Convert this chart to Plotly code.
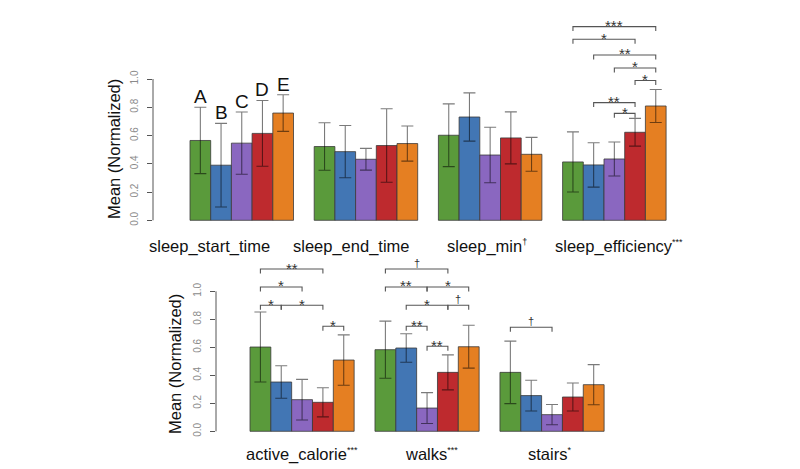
import plotly.graph_objects as go

W, H = 800, 469
FONT = "Liberation Sans, Arial, sans-serif"

colors = ["#5a9a3b", "#4276b4", "#8a67c0", "#be2a2e", "#e57f22"]
letters = ["A", "B", "C", "D", "E"]

# ---- data ----
top_groups = ["sleep_start_time", "sleep_end_time", "sleep_min", "sleep_efficiency"]
top_sig = ["", "", "†", "***"]
top_means = [
    [0.565, 0.390, 0.546, 0.615, 0.759],
    [0.522, 0.486, 0.432, 0.529, 0.543],
    [0.602, 0.731, 0.462, 0.583, 0.467],
    [0.413, 0.392, 0.434, 0.623, 0.809],
]
top_err = [
    [0.235, 0.296, 0.220, 0.233, 0.130],
    [0.168, 0.185, 0.077, 0.260, 0.124],
    [0.222, 0.171, 0.196, 0.184, 0.120],
    [0.213, 0.157, 0.120, 0.098, 0.117],
]
# (group, from_bar, to_bar, height, label)
top_brackets = [
    (3, 0, 4, 1.371, "***"),
    (3, 0, 3, 1.281, "*"),
    (3, 1, 4, 1.170, "**"),
    (3, 2, 4, 1.078, "*"),
    (3, 3, 4, 0.989, "*"),
    (3, 1, 3, 0.833, "**"),
    (3, 2, 3, 0.757, "*"),
]

bot_groups = ["active_calorie", "walks", "stairs"]
bot_sig = ["***", "***", "*"]
bot_means = [
    [0.602, 0.352, 0.226, 0.207, 0.509],
    [0.583, 0.595, 0.166, 0.421, 0.604],
    [0.421, 0.255, 0.119, 0.245, 0.333],
]
bot_err = [
    [0.250, 0.116, 0.145, 0.104, 0.180],
    [0.204, 0.102, 0.110, 0.125, 0.153],
    [0.223, 0.110, 0.072, 0.100, 0.143],
]
bot_brackets = [
    (0, 0, 3, 1.159, "**"),
    (0, 0, 2, 1.031, "*"),
    (0, 0, 1, 0.900, "*"),
    (0, 1, 3, 0.900, "*"),
    (0, 3, 4, 0.750, "*"),
    (1, 0, 3, 1.159, "†"),
    (1, 0, 2, 1.031, "**"),
    (1, 2, 4, 1.031, "*"),
    (1, 1, 3, 0.900, "*"),
    (1, 3, 4, 0.900, "†"),
    (1, 1, 2, 0.750, "**"),
    (1, 2, 3, 0.607, "**"),
    (2, 0, 2, 0.743, "†"),
]

yticks = [0.0, 0.2, 0.4, 0.6, 0.8, 1.0]


def bar_x(g, j):
    return 1 + 6 * g + j + 0.5


fig = go.Figure()
annotations = []
shapes = []

panels = [
    dict(xa="x", ya="y", means=top_means, err=top_err, br=top_brackets),
    dict(xa="x2", ya="y2", means=bot_means, err=bot_err, br=bot_brackets),
]

for p in panels:
    ng = len(p["means"])
    for j in range(5):
        fig.add_trace(go.Bar(
            x=[bar_x(g, j) for g in range(ng)],
            y=[p["means"][g][j] for g in range(ng)],
            width=1.0,
            marker=dict(color=colors[j], line=dict(color="#3a3a3a", width=0.8)),
            error_y=dict(type="data", array=[p["err"][g][j] for g in range(ng)],
                         symmetric=True, color="rgba(0,0,0,0.52)", thickness=1.1, width=6),
            xaxis=p["xa"], yaxis=p["ya"], showlegend=False, hoverinfo="skip",
        ))
    drop = 0.032
    for (g, a, b, h, lab) in p["br"]:
        xa_, xb_ = bar_x(g, a), bar_x(g, b)
        fig.add_trace(go.Scatter(
            x=[xa_, xa_, xb_, xb_], y=[h - drop, h, h, h - drop], mode="lines",
            line=dict(color="#555555", width=1.1), xaxis=p["xa"], yaxis=p["ya"],
            showlegend=False, hoverinfo="skip"))
        annotations.append(dict(
            x=(xa_ + xb_) / 2, y=h, xref=p["xa"], yref=p["ya"], text=lab,
            showarrow=False, yanchor="middle", yshift=(6 if lab == "†" else 1),
            font=dict(size=(11 if lab == "†" else 15), color="#333333", family=FONT)))
    # axis line from 0 to 1
    shapes.append(dict(type="line", xref=p["xa"] + " domain", yref=p["ya"],
                       x0=0, x1=0, y0=0, y1=1, line=dict(color="#555555", width=1)))

# letters above first group
for j in range(5):
    annotations.append(dict(
        x=bar_x(0, j), y=top_means[0][j] + top_err[0][j], xref="x", yref="y",
        text=letters[j], showarrow=False, yanchor="bottom", yshift=-2,
        font=dict(size=19, color="#111111", family=FONT)))


def sup(s):
    return f"<sup><span style='font-size:9px'>{s}</span></sup>" if s else ""


top_label_left = [139, 283, 437, 545]
for name, s, lx in zip(top_groups, top_sig, top_label_left):
    annotations.append(dict(x=lx / W, y=1 - 238 / H, xref="paper", yref="paper",
                            text=name + sup(s), showarrow=False, xanchor="left", yanchor="middle",
                            font=dict(size=16.5, color="#111111", family=FONT)))
bot_label_left = [236, 395, 518]
for name, s, lx in zip(bot_groups, bot_sig, bot_label_left):
    annotations.append(dict(x=lx / W, y=1 - 446 / H, xref="paper", yref="paper",
                            text=name + sup(s), showarrow=False, xanchor="left", yanchor="middle",
                            font=dict(size=16.5, color="#111111", family=FONT)))

for (px, py) in [(106, 141), (167, 356)]:
    annotations.append(dict(x=px / W, y=1 - py / H, xref="paper", yref="paper",
                            text="Mean (Normalized)", textangle=-90, showarrow=False,
                            xanchor="center", yanchor="middle",
                            font=dict(size=16.5, color="#111111", family=FONT)))


def xdom(px0, px1):
    return [px0 / W, px1 / W]


def xrange(px0, px1, first_bar_px, unit):
    return [1 + (px0 - first_bar_px) / unit, 1 + (px1 - first_bar_px) / unit]


def ydom(zero_px, ppu, lo, hi):
    bottom = zero_px - lo * ppu
    top = zero_px - hi * ppu
    return [1 - bottom / H, 1 - top / H]


yax_common = dict(
    tickvals=yticks, ticktext=[f"{v:.1f}" for v in yticks], tickangle=-90,
    ticks="outside", ticklen=5, tickcolor="#555555", tickwidth=1,
    ticklabelstandoff=5,
    tickfont=dict(size=10, color="#8a8a8a", family=FONT),
    showgrid=False, zeroline=False, showline=False, fixedrange=True,
)
xax_common = dict(showticklabels=False, ticks="", showgrid=False, zeroline=False,
                  showline=False, fixedrange=True)

top_lo, top_hi = -0.05, 1.5
bot_lo, bot_hi = -0.05, 1.25

fig.update_layout(
    width=W, height=H, margin=dict(l=0, r=0, t=0, b=0),
    paper_bgcolor="white", plot_bgcolor="white", barmode="overlay",
    xaxis=dict(domain=xdom(145, 700), range=xrange(145, 700, 182, 20.7), anchor="y", **xax_common),
    yaxis=dict(domain=ydom(212.3, 141.3, top_lo, top_hi), range=[top_lo, top_hi], anchor="x", **yax_common),
    xaxis2=dict(domain=xdom(208, 620), range=xrange(208, 620, 242, 20.83), anchor="y2", **xax_common),
    yaxis2=dict(domain=ydom(423.3, 140.0, bot_lo, bot_hi), range=[bot_lo, bot_hi], anchor="x2", **yax_common),
    annotations=annotations, shapes=shapes,
)

fig.write_html("out.html")
